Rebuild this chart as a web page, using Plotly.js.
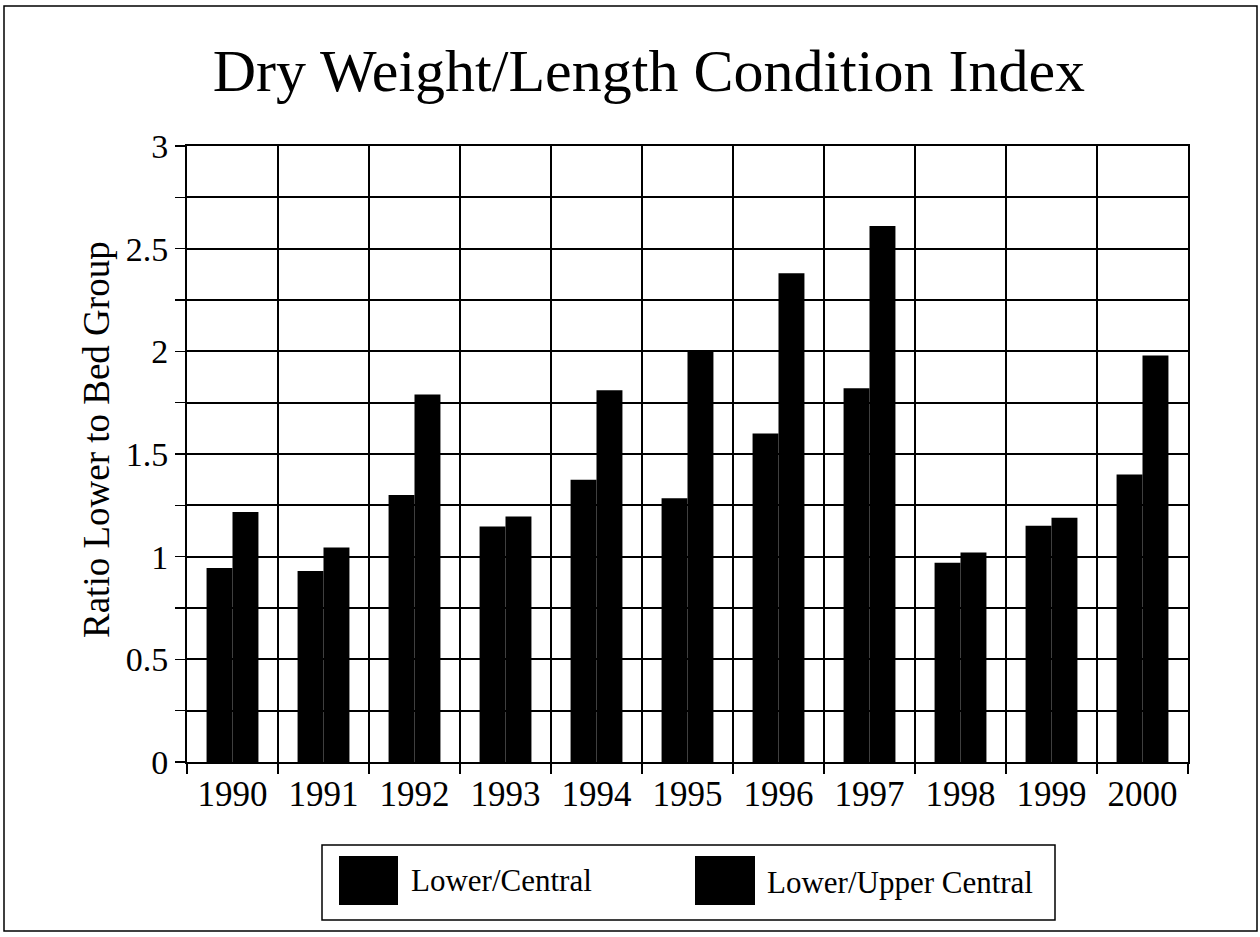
<!DOCTYPE html>
<html>
<head>
<meta charset="utf-8">
<script src="https://cdn.plot.ly/plotly-3.0.1.min.js"></script>
<style>html,body{margin:0;padding:0;background:#fff;}#chart{width:1260px;height:937px;}</style>
</head>
<body>
<div id="chart"></div>
<script>
const years = ['1990','1991','1992','1993','1994','1995','1996','1997','1998','1999','2000'];
const seriesNames = ['Lower/Central', 'Lower/Upper Central'];
const lowerCentral = [0.945, 0.93, 1.30, 1.147, 1.375, 1.285, 1.60, 1.82, 0.97, 1.15, 1.40];
const lowerUpperCentral = [1.218, 1.045, 1.79, 1.196, 1.81, 2.005, 2.38, 2.61, 1.02, 1.19, 1.98];
const titleText = 'Dry Weight/Length Condition Index';
const yTitle = 'Ratio Lower to Bed Group';

const serif = '"Liberation Serif", "Times New Roman", serif';

const traces = [
  {type:'bar', name:seriesNames[0], x:years, y:lowerCentral, marker:{color:'#000', line:{width:0}}},
  {type:'bar', name:seriesNames[1], x:years, y:lowerUpperCentral, marker:{color:'#000', line:{width:0}}}
];

// pixel -> paper helpers (plot area 187..1188 x 146..762)
const L=187, R=1188, T=146, B=762;
const px = v => (v-L)/(R-L);
const py = v => (B-v)/(B-T);

const shapes = [
  {type:'rect', xref:'paper', yref:'paper', x0:px(4), x1:px(1257), y0:py(931), y1:py(6), line:{color:'#000', width:1.5}, fillcolor:'rgba(0,0,0,0)', layer:'below'},
  {type:'rect', xref:'paper', yref:'paper', x0:px(322), x1:px(1055), y0:py(920), y1:py(845), line:{color:'#000', width:1.5}, fillcolor:'#fff'},
  {type:'rect', xref:'paper', yref:'paper', x0:px(339), x1:px(398), y0:py(905), y1:py(856), line:{width:0}, fillcolor:'#000'},
  {type:'rect', xref:'paper', yref:'paper', x0:px(695), x1:px(755), y0:py(905), y1:py(856), line:{width:0}, fillcolor:'#000'}
];
const annotations = [
  {xref:'paper', yref:'paper', x:px(409), y:py(880), xanchor:'left', yanchor:'middle', text:seriesNames[0], showarrow:false, font:{family:serif, size:31, color:'#000'}},
  {xref:'paper', yref:'paper', x:px(765), y:py(882), xanchor:'left', yanchor:'middle', text:seriesNames[1], showarrow:false, font:{family:serif, size:31, color:'#000'}},
  {xref:'paper', yref:'paper', x:px(96), y:py(440), xanchor:'center', yanchor:'middle', textangle:-90, text:yTitle, showarrow:false, font:{family:serif, size:37, color:'#000'}}
];

const layout = {
  width:1260, height:937,
  paper_bgcolor:'#fff', plot_bgcolor:'#fff',
  margin:{l:L, r:1260-R, t:T, b:937-B, pad:0},
  showlegend:false,
  barmode:'group', bargap:0.43, bargroupgap:0,
  title:{text:titleText, font:{family:serif, size:60, color:'#000'}, x:0.515, xref:'container', xanchor:'center', y:1-70/937, yref:'container', yanchor:'middle'},
  xaxis:{
    type:'category', tickson:'boundaries', ticks:'outside', ticklen:10, tickwidth:1.5, tickcolor:'#000',
    showgrid:true, gridcolor:'#000', gridwidth:2,
    showline:true, linecolor:'#000', linewidth:2, mirror:true,
    tickfont:{family:serif, size:35, color:'#000'}, automargin:false
  },
  yaxis:{
    range:[0,3], dtick:0.5, tick0:0, ticks:'outside', ticklen:10, tickwidth:1.5, tickcolor:'#000',
    showgrid:true, gridcolor:'#000', gridwidth:2, zeroline:false,
    showline:true, linecolor:'#000', linewidth:2, mirror:true,
    minor:{dtick:0.25, tick0:0, showgrid:true, gridcolor:'#000', gridwidth:2, ticks:'outside', ticklen:10, tickcolor:'#000'},
    tickfont:{family:serif, size:34, color:'#000'},
    automargin:false
  },
  shapes:shapes, annotations:annotations
};

Plotly.newPlot('chart', traces, layout, {displayModeBar:false, staticPlot:true});
</script>
</body>
</html>
